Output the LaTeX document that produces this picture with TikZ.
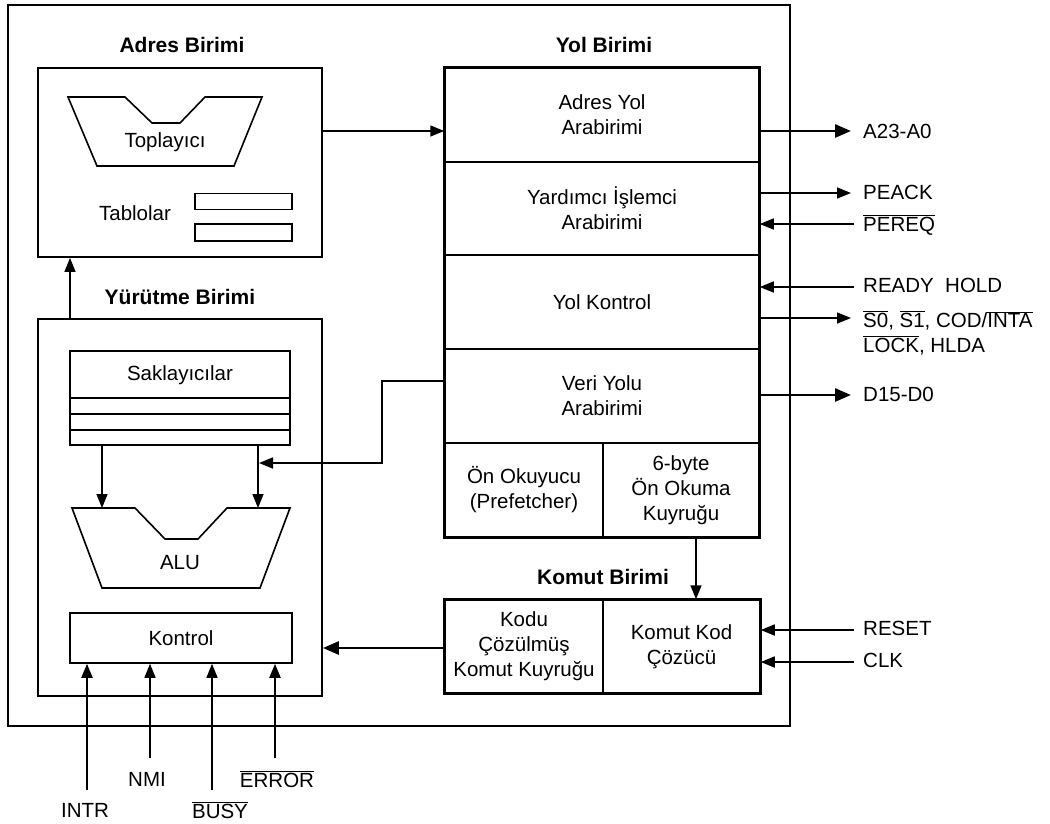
\documentclass[tikz,border=0pt]{standalone}
\usepackage{fontspec}
\setmainfont{Liberation Sans}
\usetikzlibrary{arrows.meta,calc}
\newcommand{\ovl}[1]{\(\overline{\mbox{#1}}\)}
\begin{document}
\begin{tikzpicture}[x=1pt,y=-1pt,
  txt/.style={font=\fontsize{20.5}{25}\selectfont, align=center, inner sep=0pt},
  ttl/.style={font=\fontsize{21}{26}\selectfont\bfseries, inner sep=0pt},
  box/.style={draw, line width=1.5pt, inner sep=0pt, font=\fontsize{20.5}{25}\selectfont, align=center},
  arr/.style={-{Triangle[length=14pt,width=11pt]}, line width=1.5pt},
  tarr/.style={-{Triangle[length=16pt,width=13pt]}, line width=2.8pt},
  sig/.style={font=\fontsize{20.5}{25}\selectfont, anchor=west, inner sep=0pt, align=left},
  shp/.style={line width=1.6pt, line join=miter},
]
\useasboundingbox (0,0) rectangle (1050,823);

% outer frame
\node[draw, line width=2.8pt, minimum width=782pt, minimum height=721pt, inner sep=0pt] (outer) at (399,365.5) {};

% ---------------- Adres Birimi ----------------
\node[ttl] (tadres) at (182,45) {Adres Birimi};
\node[box, line width=1.8pt, minimum width=284pt, minimum height=189pt] (adres) at (180,162.5) {};
\draw[shp] (68,97) -- (125,97) -- (152,123) -- (180,123) -- (205,97) -- (262,97) -- (234,166) -- (97,166) -- cycle;
\node[txt] (topl) at (165,142) {Toplayıcı};
\node[txt] (tabl) at (135,213) {Tablolar};
\node[box, line width=1.8pt, minimum width=97pt, minimum height=16pt] (tab1) at (243.5,201.5) {};
\node[box, line width=1.8pt, minimum width=97pt, minimum height=17pt] (tab2) at (243.5,232.5) {};

% ---------------- Yol Birimi ----------------
\node[ttl] (tyol) at (604,45) {Yol Birimi};
\node[box, minimum width=314pt, minimum height=94pt] (r1) at (602,115) {Adres Yol\\Arabirimi};
\node[box, minimum width=314pt, minimum height=93pt] (r2) at (602,208.5) {Yardımcı İşlemci\\Arabirimi};
\node[box, minimum width=314pt, minimum height=94pt] (r3) at (602,302) {Yol Kontrol};
\node[box, minimum width=314pt, minimum height=94pt] (r4) at (602,396) {Veri Yolu\\Arabirimi};
\node[box, minimum width=158pt, minimum height=94pt] (r5a) at (524,490) {Ön Okuyucu\\(Prefetcher)};
\node[box, minimum width=156pt, minimum height=94pt] (r5b) at (681,490) {6-byte\\Ön Okuma\\Kuyruğu};
\draw[line width=2pt] (r1.north west) rectangle (r5b.south east);

% ---------------- Komut Birimi ----------------
\node[ttl] (tkom) at (603,577) {Komut Birimi};
\node[box, minimum width=158pt, minimum height=93pt] (k1) at (524,646.5) {Kodu\\Çözülmüş\\Komut Kuyruğu};
\node[box, minimum width=157pt, minimum height=93pt] (k2) at (681.5,646.5) {Komut Kod\\Çözücü};
\draw[line width=1.8pt] (k1.north west) rectangle (k2.south east);

% ---------------- Yürütme Birimi ----------------
\node[ttl] (tyur) at (180,297) {Yürütme Birimi};
\node[box, line width=1.8pt, minimum width=284pt, minimum height=377pt] (yur) at (180,507.5) {};
\node[box, line width=1.6pt, minimum width=220pt, minimum height=94pt] (sak) at (180,398) {};
\node[txt] (tsak) at (180,375) {Saklayıcılar};
\draw[line width=1.4pt] (70,398) -- (290,398) (70,414) -- (290,414) (70,430) -- (290,430);
\draw[shp] (72,508) -- (135,508) -- (165,539) -- (198,539) -- (227,508) -- (290,508) -- (260,588) -- (102,588) -- cycle;
\node[txt] (alu) at (180,563) {ALU};
\node[box, line width=1.6pt, minimum width=222pt, minimum height=50pt] (kon) at (181,638) {Kontrol};

% internal arrows
\coordinate (aluL) at (102,508);
\coordinate (aluR) at (258,508);
\draw[arr] (sak.south -| aluL) -- (aluL);
\draw[arr] (sak.south -| aluR) -- (aluR);
\coordinate (jv) at (259,463);
\draw[arr, line width=1.7pt] ([yshift=15pt]r4.west) -- ++(-62,0) |- (jv);

% unit-to-unit arrows
\coordinate (ay) at (0,131);
\draw[arr] (adres.east |- ay) -- (r1.west |- ay);
\coordinate (ux) at (70,0);
\draw[arr] (yur.north -| ux) -- (adres.south -| ux);
\coordinate (kx) at (696,0);
\draw[arr] (r5b.south -| kx) -- (k2.north -| kx);
\coordinate (ky) at (0,648);
\draw[tarr] (k1.west |- ky) -- (yur.east |- ky);

% ---------------- right-hand signals ----------------
\coordinate (eA) at (851,131);
\draw[tarr] (r1.east |- eA) -- (eA);
\node[sig] (lA) at (863,131) {A23-A0};

\coordinate (ePA) at (851,193);
\draw[arr] (r2.east |- ePA) -- (ePA);
\node[sig] (lPA) at (863,192) {PEACK};

\coordinate (sPR) at (854,224);
\draw[arr] (sPR) -- (r2.east |- sPR);
\node[sig] (lPR) at (863,225) {\ovl{PEREQ}};

\coordinate (sRD) at (854,287);
\draw[arr] (sRD) -- (r3.east |- sRD);
\node[sig] (lRD) at (863,285) {READY\ \ HOLD};

\coordinate (eS) at (851,318);
\draw[arr] (r3.east |- eS) -- (eS);
\node[sig] (lS) at (863,333) {\ovl{S0}, \ovl{S1}, COD/\ovl{INTA}\\\ovl{LOCK}, HLDA};

\coordinate (eD) at (851,395);
\draw[tarr] (r4.east |- eD) -- (eD);
\node[sig] (lD) at (863,394) {D15-D0};

\coordinate (sRS) at (854,630);
\draw[arr] (sRS) -- (k2.east |- sRS);
\node[sig] (lRS) at (863,628) {RESET};

\coordinate (sCK) at (854,662);
\draw[arr] (sCK) -- (k2.east |- sCK);
\node[sig] (lCK) at (863,660) {CLK};

% ---------------- bottom inputs ----------------
\coordinate (sI) at (87,790);
\draw[arr, line width=2pt] (sI) -- (sI |- kon.south);
\node[txt] (lI) at (85,810) {INTR};

\coordinate (sN) at (150,758);
\draw[arr] (sN) -- (sN |- kon.south);
\node[txt] (lN) at (147,779) {NMI};

\coordinate (sB) at (212,790);
\draw[arr] (sB) -- (sB |- kon.south);
\node[txt] (lB) at (220,810) {\ovl{BUSY}};

\coordinate (sE) at (275,758);
\draw[arr, line width=2pt] (sE) -- (sE |- kon.south);
\node[txt] (lE) at (277,779) {\ovl{ERROR}};

\end{tikzpicture}
\end{document}
